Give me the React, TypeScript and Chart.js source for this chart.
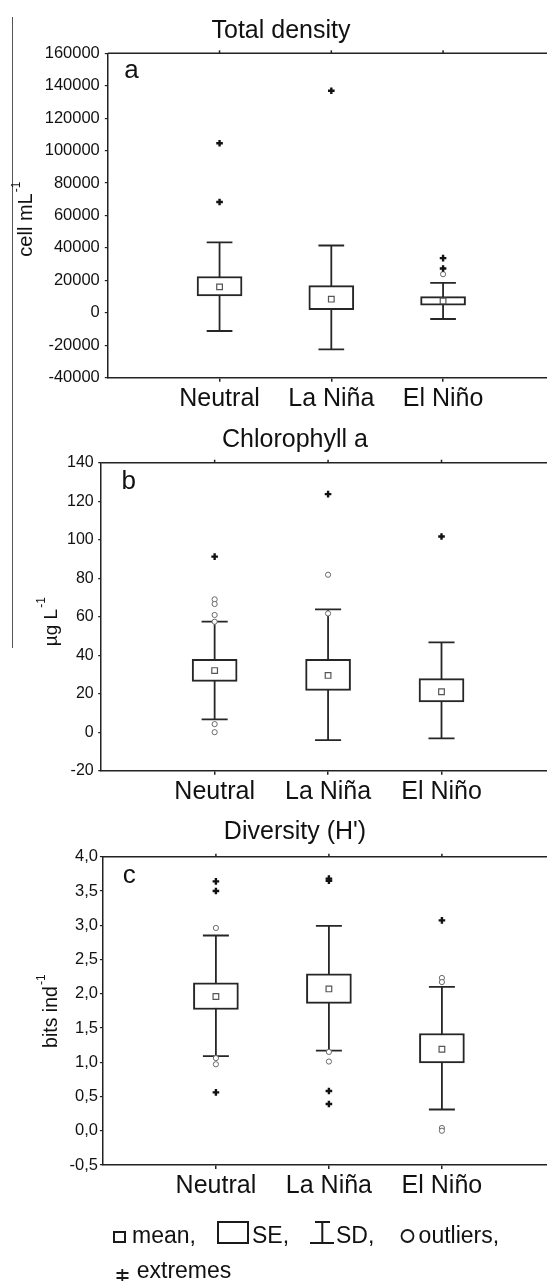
import React, { useEffect, useRef } from "react";
import { Chart, registerables } from "chart.js";

Chart.register(...registerables);

const FONT = "'Liberation Sans', Arial, Helvetica, sans-serif";

// ---------- data ----------
const categories = ["Neutral", "La Niña", "El Niño"];

// (a) Total density, cell mL-1
const densityMean = [16000, 8400, 7350];
const densitySeLow = [10400, 2000, 4700];
const densitySeHigh = [22400, 16800, 10000];
const densitySdLow = [-11200, -22500, -3800];
const densitySdHigh = [43400, 41500, 18500];
const densityOutliers = [[], [], [23800]];
const densityExtremes = [[104500, 68300], [136900], [33700, 27300]];

// (b) Chlorophyll a, µg L-1
const chlMean = [32, 29.5, 21];
const chlSeLow = [26.4, 21.7, 15.7];
const chlSeHigh = [37.8, 37.8, 27.8];
const chlSdLow = [6.7, -4.1, -3.2];
const chlSdHigh = [57.4, 63.8, 46.7];
const chlOutliers = [[69, 66.6, 60.9, 57.4, 4.2, 0], [81.8, 61.7], []];
const chlExtremes = [[91.2], [123.7], [101.7]];

// (c) Diversity (H'), bits ind-1
const divMean = [1.96, 2.07, 1.19];
const divSeLow = [1.77, 1.86, 0.99];
const divSeHigh = [2.16, 2.29, 1.42];
const divSdLow = [1.09, 1.17, 0.31];
const divSdHigh = [2.85, 2.99, 2.1];
const divOutliers = [[2.96, 1.06, 0.97], [1.15, 1.01], [2.23, 2.17, 0.04, 0.0]];
const divExtremes = [[3.64, 3.5, 0.56], [3.68, 3.65, 0.58, 0.39], [3.07]];

// axis ranges / ticks
const densityAxis = { min: -40000, max: 160000, step: 20000 };
const chlAxis = { min: -20, max: 140, step: 20 };
const divAxis = { min: -0.5, max: 4.0, step: 0.5 };
const xAxisMax = 3.93;

const fmtPlain = (v: number) => String(v);
const fmtComma = (v: number) => Number(v).toFixed(1).replace(".", ",");

type Stats = {
  mean: number[];
  seLow: number[];
  seHigh: number[];
  sdLow: number[];
  sdHigh: number[];
  outliers: number[][];
  extremes: number[][];
};

const LINE = "#262626";

function buildDatasets(s: Stats): any[] {
  const capHalf = 0.115;
  const whisker: any[] = [];
  categories.forEach((_, i) => {
    const x = i + 1;
    whisker.push({ x, y: s.sdLow[i] }, { x, y: s.sdHigh[i] }, { x, y: null });
    whisker.push({ x: x - capHalf, y: s.sdHigh[i] }, { x: x + capHalf, y: s.sdHigh[i] }, { x, y: null });
    whisker.push({ x: x - capHalf, y: s.sdLow[i] }, { x: x + capHalf, y: s.sdLow[i] }, { x, y: null });
  });
  return [
    {
      type: "line",
      data: whisker,
      borderColor: LINE,
      borderWidth: 1.8,
      pointRadius: 0,
      spanGaps: false,
      fill: false,
      tension: 0,
      order: 4,
    },
    {
      type: "bar",
      data: categories.map((_, i) => ({ x: i + 1, y: [s.seLow[i], s.seHigh[i]] })),
      backgroundColor: "#ffffff",
      borderColor: LINE,
      borderWidth: 2,
      borderSkipped: false,
      barThickness: 45,
      order: 3,
    },
    {
      type: "scatter",
      data: categories.map((_, i) => ({ x: i + 1, y: s.mean[i] })),
      pointStyle: "rect",
      pointRadius: 4,
      borderColor: "#555555",
      backgroundColor: "#ffffff",
      borderWidth: 1.2,
      order: 2,
    },
    {
      type: "scatter",
      data: s.outliers.flatMap((vals, i) => vals.map((v) => ({ x: i + 1, y: v }))),
      pointStyle: "circle",
      pointRadius: 2.6,
      borderColor: "#6a6a6a",
      backgroundColor: "#ffffff",
      borderWidth: 1,
      order: 1,
    },
    {
      type: "scatter",
      data: s.extremes.flatMap((vals, i) => vals.map((v) => ({ x: i + 1, y: v }))),
      pointStyle: "cross",
      pointRadius: 3.3,
      borderColor: "#111111",
      borderWidth: 2.4,
      order: 0,
    },
  ];
}

const annotPlugin = {
  id: "annot",
  afterDraw(chart: any, _args: any, o: any) {
    const ctx = chart.ctx as CanvasRenderingContext2D;
    const { left, right, top } = chart.chartArea;
    ctx.save();
    // top frame line with category ticks
    ctx.strokeStyle = "#222";
    ctx.lineWidth = 1.5;
    ctx.beginPath();
    ctx.moveTo(left, top);
    ctx.lineTo(right, top);
    ctx.stroke();
    const xs = chart.scales.x;
    categories.forEach((_, i) => {
      const px = xs.getPixelForValue(i + 1);
      ctx.beginPath();
      ctx.moveTo(px, top);
      ctx.lineTo(px, top - 3);
      ctx.stroke();
    });

    ctx.fillStyle = "#111";
    ctx.textBaseline = "alphabetic";
    // title
    ctx.font = `25px ${FONT}`;
    ctx.textAlign = "center";
    ctx.fillText(o.title, o.titleX, o.titleY);
    // panel letter
    ctx.font = `26px ${FONT}`;
    ctx.textAlign = "left";
    ctx.fillText(o.letter, o.letterX, o.letterY);

    // y title with superscript
    ctx.save();
    ctx.translate(o.yTitleX, o.yTitleY);
    ctx.rotate(-Math.PI / 2);
    ctx.font = `${o.yTitleFont}px ${FONT}`;
    const w = ctx.measureText(o.yTitle).width;
    ctx.textAlign = "center";
    ctx.fillText(o.yTitle, 0, 0);
    ctx.font = `12px ${FONT}`;
    ctx.textAlign = "left";
    ctx.fillText("-1", w / 2 + 1, -o.yTitleFont * 0.62);
    ctx.restore();

    if (o.legend) {
      const ly1 = o.legendY1;
      const ly2 = o.legendY2;
      ctx.strokeStyle = "#1a1a1a";
      ctx.lineWidth = 2;
      ctx.font = `23px ${FONT}`;
      ctx.textAlign = "left";
      // mean
      ctx.strokeRect(114, ly1 - 11, 11, 10);
      ctx.fillText("mean,", 132, ly1);
      // SE
      ctx.strokeRect(218, ly1 - 21, 30, 21);
      ctx.fillText("SE,", 252, ly1);
      // SD
      ctx.beginPath();
      ctx.moveTo(315, ly1 - 21);
      ctx.lineTo(330, ly1 - 21);
      ctx.moveTo(322.3, ly1 - 21);
      ctx.lineTo(322.3, ly1);
      ctx.moveTo(310, ly1);
      ctx.lineTo(334, ly1);
      ctx.stroke();
      ctx.fillText("SD,", 336, ly1);
      // outliers
      ctx.lineWidth = 1.8;
      ctx.beginPath();
      ctx.arc(407.5, ly1 - 7, 6, 0, Math.PI * 2);
      ctx.stroke();
      ctx.fillText("outliers,", 418.6, ly1);
      // extremes
      ctx.beginPath();
      ctx.moveTo(122.3, ly2 - 9);
      ctx.lineTo(122.3, ly2 + 3);
      ctx.moveTo(116.5, ly2 - 5);
      ctx.lineTo(128.5, ly2 - 5);
      ctx.moveTo(116.5, ly2);
      ctx.lineTo(128.5, ly2);
      ctx.stroke();
      ctx.fillText("extremes", 136.7, ly2);
    }
    ctx.restore();
  },
};

type PanelDef = {
  top: number;
  height: number;
  chartTop: number;
  chartBottom: number;
  left: number;
  axis: { min: number; max: number; step: number };
  fmt: (v: number) => string;
  tickFont: number;
  tickPad: number;
  stats: Stats;
  annot: any;
};

const panels: PanelDef[] = [
  {
    top: 0,
    height: 415,
    chartTop: 53.3,
    chartBottom: 377.7,
    left: 107.8,
    axis: densityAxis,
    fmt: fmtPlain,
    tickFont: 16.5,
    tickPad: 5,
    stats: {
      mean: densityMean,
      seLow: densitySeLow,
      seHigh: densitySeHigh,
      sdLow: densitySdLow,
      sdHigh: densitySdHigh,
      outliers: densityOutliers,
      extremes: densityExtremes,
    },
    annot: {
      title: "Total density",
      titleX: 281,
      titleY: 37.7,
      letter: "a",
      letterX: 124.3,
      letterY: 78.3,
      yTitle: "cell mL",
      yTitleX: 32,
      yTitleY: 225,
      yTitleFont: 20,
      legend: false,
    },
  },
  {
    top: 415,
    height: 400,
    chartTop: 47.7,
    chartBottom: 355.7,
    left: 101.2,
    axis: chlAxis,
    fmt: fmtPlain,
    tickFont: 16,
    tickPad: 4.5,
    stats: {
      mean: chlMean,
      seLow: chlSeLow,
      seHigh: chlSeHigh,
      sdLow: chlSdLow,
      sdHigh: chlSdHigh,
      outliers: chlOutliers,
      extremes: chlExtremes,
    },
    annot: {
      title: "Chlorophyll a",
      titleX: 295,
      titleY: 31.7,
      letter: "b",
      letterX: 121.4,
      letterY: 74,
      yTitle: "µg L",
      yTitleX: 56.7,
      yTitleY: 212.5,
      yTitleFont: 19,
      legend: false,
    },
  },
  {
    top: 815,
    height: 466,
    chartTop: 41.7,
    chartBottom: 350,
    left: 102.9,
    axis: divAxis,
    fmt: fmtComma,
    tickFont: 16.5,
    tickPad: 2,
    stats: {
      mean: divMean,
      seLow: divSeLow,
      seHigh: divSeHigh,
      sdLow: divSdLow,
      sdHigh: divSdHigh,
      outliers: divOutliers,
      extremes: divExtremes,
    },
    annot: {
      title: "Diversity (H')",
      titleX: 295,
      titleY: 24,
      letter: "c",
      letterX: 122.8,
      letterY: 68,
      yTitle: "bits ind",
      yTitleX: 56.7,
      yTitleY: 202,
      yTitleFont: 19.5,
      legend: true,
      legendY1: 428,
      legendY2: 463,
    },
  },
];

function Panel({ def }: { def: PanelDef }) {
  const ref = useRef<HTMLCanvasElement | null>(null);
  useEffect(() => {
    if (!ref.current) return;
    const xHeight = def.height - def.chartBottom;
    const chart = new Chart(ref.current, {
      type: "scatter",
      data: { datasets: buildDatasets(def.stats) },
      plugins: [annotPlugin],
      options: {
        animation: false,
        responsive: false,
        events: [],
        layout: { autoPadding: false, padding: { top: def.chartTop, left: 0, right: 0, bottom: 0 } },
        plugins: {
          legend: { display: false },
          tooltip: { enabled: false },
          title: { display: false },
          annot: def.annot,
        } as any,
        scales: {
          x: {
            type: "linear",
            min: 0,
            max: xAxisMax,
            offset: false,
            afterBuildTicks: (s: any) => {
              s.ticks = categories.map((_, i) => ({ value: i + 1 }));
            },
            afterFit: (s: any) => {
              s.height = xHeight;
            },
            ticks: {
              autoSkip: false,
              maxRotation: 0,
              padding: 2,
              color: "#111",
              font: { family: FONT, size: 25 },
              callback: (v: any) => categories[Math.round(Number(v)) - 1] ?? "",
            },
            grid: {
              offset: false,
              drawOnChartArea: false,
              drawTicks: true,
              tickLength: 4,
              color: "#222",
              lineWidth: 1.5,
            },
            border: { display: true, color: "#222", width: 1.5 },
          },
          y: {
            type: "linear",
            min: def.axis.min,
            max: def.axis.max,
            afterFit: (s: any) => {
              s.width = def.left;
            },
            ticks: {
              stepSize: def.axis.step,
              padding: def.tickPad,
              color: "#111",
              font: { family: FONT, size: def.tickFont },
              callback: (v: any) => def.fmt(Number(v)),
            },
            grid: {
              offset: false,
              drawOnChartArea: false,
              drawTicks: true,
              tickLength: 3,
              color: "#222",
              lineWidth: 1.2,
            },
            border: { display: true, color: "#222", width: 1.5 },
          },
        },
      } as any,
    } as any);
    return () => chart.destroy();
  }, [def]);
  return (
    <canvas
      ref={ref}
      width={547}
      height={def.height}
      style={{ position: "absolute", left: 0, top: def.top, width: 547, height: def.height, display: "block" }}
    />
  );
}

export default function App() {
  return (
    <div
      style={{
        position: "absolute",
        left: 0,
        top: 0,
        width: 547,
        height: 1281,
        background: "#ffffff",
        overflow: "hidden",
      }}
    >
      <div style={{ position: "absolute", left: 12, top: 17, width: 1, height: 631, background: "#555" }} />
      {panels.map((p, i) => (
        <Panel key={i} def={p} />
      ))}
    </div>
  );
}
